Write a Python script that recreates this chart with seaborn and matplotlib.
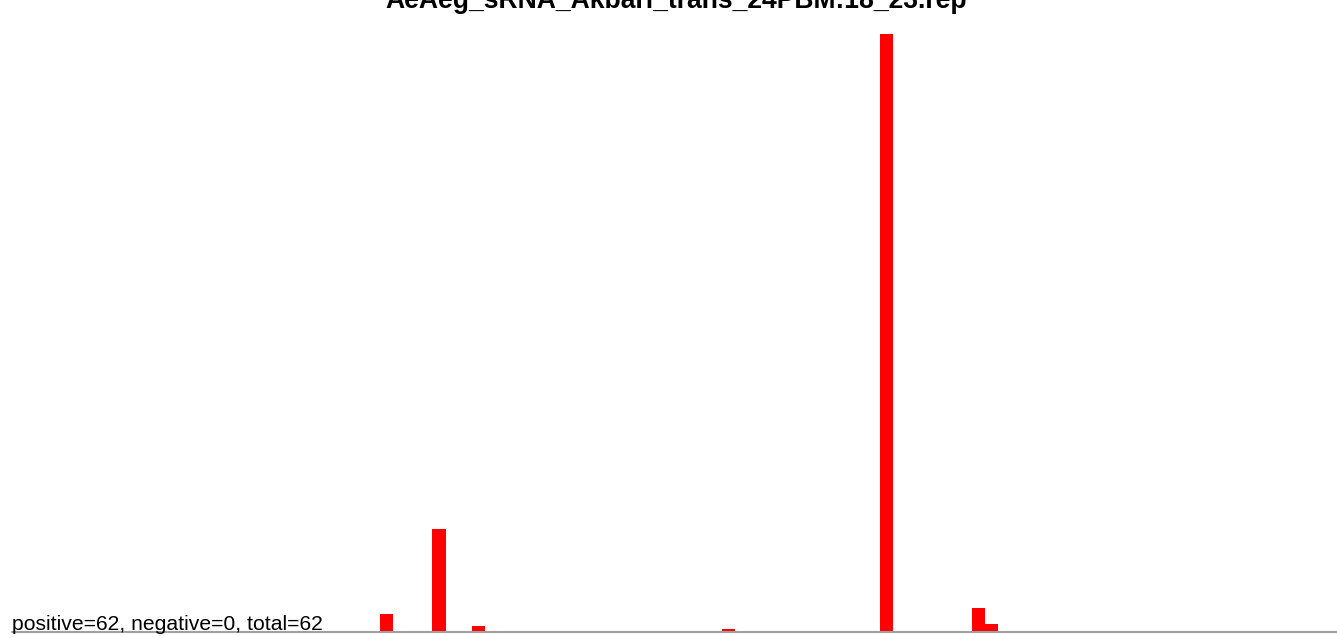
import matplotlib
matplotlib.use("Agg")
import matplotlib.pyplot as plt
import seaborn as sns
import pandas as pd

# ---- data ----
title = "AeAeg_sRNA_Akbari_trans_24PBM:18_23.rep"
summary = "positive=62, negative=0, total=62"
positions = [29, 33, 36, 55, 67, 74, 75]
values = [1.47, 8.40, 0.49, 0.24, 48.78, 1.96, 0.65]

sns.set_theme(style="white")
plt.rcParams['font.family'] = ['Liberation Sans', 'DejaVu Sans']

W, H = 1337, 638
fig = plt.figure(figsize=(W / 100, H / 100), dpi=100)
ax = fig.add_axes([0, 6 / H, 1, 1 - 6 / H])

df = pd.DataFrame({"pos": positions, "val": values})
sns.barplot(data=df, x="pos", y="val", native_scale=True, color="#ff0000",
            saturation=1, width=1, linewidth=0, errorbar=None, ax=ax)

ax.set_xlim(-0.386, 101.29)
ax.set_ylim(0, max(values) * 632 / 598)
ax.axhline(0, xmin=12 / W, xmax=1, color="#a0a0a0", lw=1.5, zorder=5,
           clip_on=False)
ax.set_axis_off()

fig.text(676.5 / W, 1 - 8 / H, title, ha="center", va="baseline",
         fontsize=19.1, fontweight="bold", color="black")
fig.text(12 / W, (H - 630) / H, summary, ha="left", va="baseline",
         fontsize=15.2, color="black")

fig.savefig("out.png", dpi=100, facecolor="white")
